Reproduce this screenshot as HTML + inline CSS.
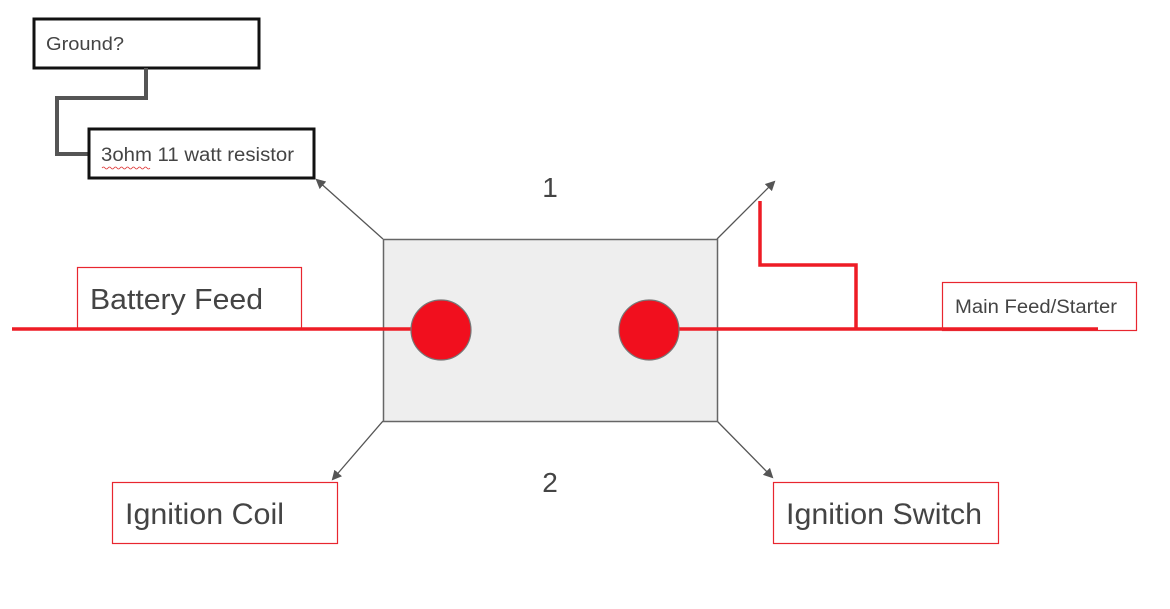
<!DOCTYPE html>
<html><head><meta charset="utf-8"><style>
html,body{margin:0;padding:0;background:#fff;width:1170px;height:609px;overflow:hidden}
text{font-family:"Liberation Sans",Arial,sans-serif;fill:#444}
</style></head><body>
<svg width="1170" height="609" viewBox="0 0 1170 609" xmlns="http://www.w3.org/2000/svg">
<defs>
<marker id="ah" markerWidth="10" markerHeight="10" refX="8" refY="5" orient="auto" markerUnits="userSpaceOnUse">
<path d="M0,0 L10,5 L0,10 Z" fill="#555"/>
</marker>
</defs>
<rect x="34" y="19" width="225" height="49" fill="#fff" stroke="#111" stroke-width="3"/>
<text x="46" y="50" font-size="18" textLength="78" lengthAdjust="spacingAndGlyphs">Ground?</text>
<polyline points="146,68 146,98 57,98 57,154 89,154" fill="none" stroke="#555" stroke-width="4"/>
<rect x="89" y="129" width="225" height="49" fill="#fff" stroke="#111" stroke-width="3"/>
<text x="101" y="161" font-size="19" textLength="193" lengthAdjust="spacingAndGlyphs">3ohm 11 watt resistor</text>
<path d="M102,168 q1.5,-2 3,0 t3,0 t3,0 t3,0 t3,0 t3,0 t3,0 t3,0 t3,0 t3,0 t3,0 t3,0 t3,0 t3,0 t3,0 t3,0" fill="none" stroke="#d33" stroke-width="0.8"/>
<line x1="383" y1="239" x2="317" y2="180" stroke="#555" stroke-width="1.3" marker-end="url(#ah)"/>
<line x1="717" y1="239" x2="774" y2="182" stroke="#555" stroke-width="1.3" marker-end="url(#ah)"/>
<line x1="383" y1="421" x2="333" y2="479" stroke="#555" stroke-width="1.3" marker-end="url(#ah)"/>
<line x1="717" y1="421" x2="772" y2="477" stroke="#555" stroke-width="1.3" marker-end="url(#ah)"/>
<rect x="383.5" y="239.5" width="334" height="182" fill="#eeeeee" stroke="#666" stroke-width="1.5"/>
<text x="550" y="197" font-size="28" text-anchor="middle">1</text>
<text x="550" y="492" font-size="28" text-anchor="middle">2</text>
<rect x="77.5" y="267.5" width="224" height="61" fill="#fff" stroke="#e8262f" stroke-width="1.2"/>
<text x="90" y="309" font-size="29" textLength="173" lengthAdjust="spacingAndGlyphs">Battery Feed</text>
<line x1="12" y1="329" x2="415" y2="329" stroke="#ee1c25" stroke-width="3.5"/>
<line x1="679" y1="329" x2="1098" y2="329" stroke="#ee1c25" stroke-width="3.5"/>
<polyline points="760,201 760,265 856,265 856,329" fill="none" stroke="#ee1c25" stroke-width="3.5"/>
<rect x="942.5" y="282.5" width="194" height="48" fill="none" stroke="#e8262f" stroke-width="1.2"/>
<text x="955" y="313" font-size="19" textLength="162" lengthAdjust="spacingAndGlyphs">Main Feed/Starter</text>
<circle cx="441" cy="330" r="30" fill="#f10f1e" stroke="#777" stroke-width="1.2"/>
<circle cx="649" cy="330" r="30" fill="#f10f1e" stroke="#777" stroke-width="1.2"/>
<rect x="112.5" y="482.5" width="225" height="61" fill="#fff" stroke="#e8262f" stroke-width="1.2"/>
<text x="125" y="524" font-size="30" textLength="159" lengthAdjust="spacingAndGlyphs">Ignition Coil</text>
<rect x="773.5" y="482.5" width="225" height="61" fill="#fff" stroke="#e8262f" stroke-width="1.2"/>
<text x="786" y="524" font-size="30" textLength="196" lengthAdjust="spacingAndGlyphs">Ignition Switch</text>
</svg>
</body></html>
